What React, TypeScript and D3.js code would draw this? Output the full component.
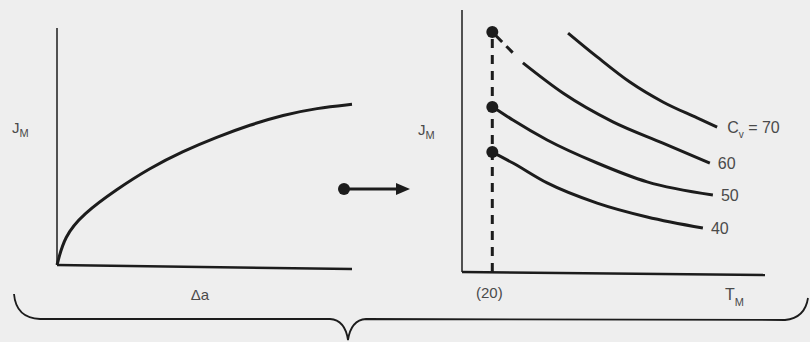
import * as d3 from 'd3';

// left panel: J_M vs Δa (resistance curve)
const rCurveDa = [0, 0.25, 0.88, 2.03, 3.15, 4.27, 5.42, 6.54, 7.66, 8.81, 10];
const rCurveJ = [0, 1.2, 2.15, 3.2, 4.09, 4.8, 5.4, 5.91, 6.33, 6.62, 6.78];

// right panel: J_M vs T_M, one line per Cv
const cvLabels = ['70', '60', '50', '40'];
const cvT = [
  [45.0, 54.6, 65.4, 76.3, 87.6, 94.2],
  [30.1, 43.3, 59.8, 76.3, 91.8],
  [20.2, 26.8, 38.1, 54.6, 71.1, 92.8],
  [20.0, 26.8, 38.1, 54.6, 71.1, 89.5],
];
const cvJ = [
  [91.2, 82.1, 72.5, 64.9, 58.8, 55.3],
  [79.8, 68.3, 57.3, 49.2, 41.6],
  [63.0, 58.0, 50.4, 41.6, 34.4, 29.4],
  [45.8, 41.6, 34.0, 26.3, 21.0, 16.8],
];
// dashed start of the Cv=60 line, from its point at T=20
const dashT = [20, 29.4];
const dashJ = [91.6, 80.6];
const dotT = 20;
const dotJ = [91.6, 63.0, 45.8];

const ink = '#1c1c1c';
const textInk = '#4a4a4a';
const font = '"Liberation Sans", Arial, sans-serif';

export default function App() {
  const width = 810;
  const height = 342;

  const lx = d3.scaleLinear().domain([0, 10]).range([57, 352]);
  const ly = d3.scaleLinear().domain([0, 10]).range([265, 28]);

  const rx = d3.scaleLinear().domain([10, 110]).range([462, 765]);
  const ry = d3.scaleLinear().domain([0, 100]).range([272, 10]);

  const lLine = d3
    .line<number>()
    .x((_, i) => lx(rCurveDa[i]))
    .y(d => ly(d))
    .curve(d3.curveBasis);

  const cvLine = (k: number) =>
    d3
      .line<number>()
      .x((_, i) => rx(cvT[k][i]))
      .y(d => ry(d))
      .curve(d3.curveMonotoneX)(cvJ[k]);

  const dashPath = d3
    .line<number>()
    .x((_, i) => rx(dashT[i]))
    .y(d => ry(d))(dashJ);

  const labelDx = [10, 8, 8, 8];

  return (
    <svg
      width={width}
      height={height}
      style={{ position: 'absolute', left: 0, top: 0, background: '#eeeeee' }}
      fontFamily={font}
    >
      {/* left panel */}
      <line x1={lx(0)} y1={ly(0)} x2={lx(0)} y2={ly(10)} stroke={ink} strokeWidth={1.5} />
      <line x1={lx(0)} y1={ly(0)} x2={lx(10)} y2={ly(0) + 4} stroke={ink} strokeWidth={2.5} />
      <path d={lLine(rCurveJ) ?? ''} fill="none" stroke={ink} strokeWidth={3} />
      <text x={12} y={133} fontSize={15} fill={textInk}>
        J<tspan fontSize={11} dy={4}>M</tspan>
      </text>
      <text x={200} y={300} fontSize={15} fill={textInk} textAnchor="middle">
        Δa
      </text>

      {/* arrow between panels */}
      <circle cx={344} cy={189} r={6} fill={ink} />
      <line x1={344} y1={189} x2={400} y2={189} stroke={ink} strokeWidth={3} />
      <path d="M396,183 L410,189 L396,195 Z" fill={ink} />

      {/* right panel */}
      <line x1={rx(10)} y1={ry(0)} x2={rx(10)} y2={ry(100)} stroke={ink} strokeWidth={1.5} />
      <line x1={rx(10)} y1={ry(0)} x2={rx(110)} y2={ry(0) + 3} stroke={ink} strokeWidth={2.5} />
      <line
        x1={rx(dotT)}
        y1={ry(0)}
        x2={rx(dotT)}
        y2={ry(dotJ[0])}
        stroke={ink}
        strokeWidth={3}
        strokeDasharray="9,7"
      />
      <path d={dashPath ?? ''} fill="none" stroke={ink} strokeWidth={3} strokeDasharray="14,6,9,20" />
      {cvLabels.map((lab, k) => (
        <path key={lab} d={cvLine(k) ?? ''} fill="none" stroke={ink} strokeWidth={3} />
      ))}
      {dotJ.map((j, i) => (
        <circle key={i} cx={rx(dotT)} cy={ry(j)} r={6} fill={ink} />
      ))}
      {cvLabels.map((lab, k) => {
        const n = cvT[k].length - 1;
        return (
          <text
            key={lab}
            x={rx(cvT[k][n]) + labelDx[k]}
            y={ry(cvJ[k][n]) + 6}
            fontSize={16}
            fill={textInk}
          >
            {k === 0 ? (
              <>
                C<tspan fontSize={10} dy={5}>v</tspan>
                <tspan dy={-5}> = {lab}</tspan>
              </>
            ) : (
              lab
            )}
          </text>
        );
      })}
      <text x={418} y={135} fontSize={15} fill={textInk}>
        J<tspan fontSize={11} dy={4}>M</tspan>
      </text>
      <text x={rx(dotT) - 3} y={298} fontSize={15} fill={textInk} textAnchor="middle">
        (20)
      </text>
      <text x={725} y={300} fontSize={16} fill={textInk}>
        T<tspan fontSize={11} dy={6}>M</tspan>
      </text>

      {/* brace under both panels */}
      <path
        d="M14,294 Q16,318 40,319 L330,319 Q345,320 348,340 Q351,320 366,319 L785,320 Q805,318 808,298"
        fill="none"
        stroke={ink}
        strokeWidth={1.8}
      />
    </svg>
  );
}
